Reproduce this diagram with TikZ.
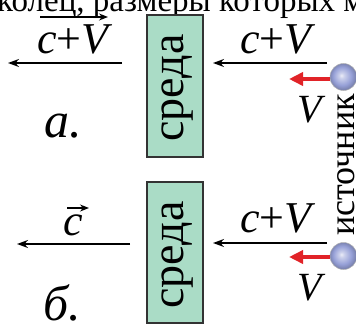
\documentclass[tikz,border=0pt]{standalone}
\usepackage{fontspec}
\setmainfont{Liberation Serif}
\usetikzlibrary{arrows.meta}
\definecolor{boxgreen}{RGB}{170,220,198}
\definecolor{arrowred}{RGB}{225,35,40}
\definecolor{ballblue}{RGB}{150,160,215}
\pgfdeclareradialshading{lightball}{\pgfpoint{-4bp}{3bp}}{color(0bp)=(ballblue!20!white); color(5bp)=(ballblue!50!white); color(17bp)=(ballblue); color(27bp)=(ballblue!75!black); color(40bp)=(ballblue!75!black)}
\begin{document}
\begin{tikzpicture}[x=1pt,y=-1pt,
  lbl/.style={inner sep=0pt, anchor=base, font=\fontsize{44}{44}\selectfont},
  vlbl/.style={inner sep=0pt, anchor=base, font=\fontsize{40}{40}\selectfont\itshape},
  caplbl/.style={inner sep=0pt, anchor=base west, font=\fontsize{50}{50}\selectfont\itshape},
  medium/.style={draw=black!80, line width=1.2pt, fill=boxgreen, minimum width=56pt, minimum height=142pt, inner sep=0pt},
  mediumtxt/.style={inner sep=0pt, rotate=90, anchor=base, font=\fontsize{46}{46}\selectfont},
  blackarrow/.style={line width=1.4pt, -{Stealth[length=11pt,width=8pt]}},
  vecarrow/.style={line width=1.4pt, -{Stealth[length=9pt,width=7pt]}},
  redarrow/.style={draw=arrowred, line width=3.8pt, -{Triangle[length=14pt,width=13pt]}},
  ball/.style={circle, minimum size=27pt, inner sep=0pt, shading=lightball, draw=gray!60, line width=0.5pt},
]
\useasboundingbox (0,0) rectangle (356,324);
\clip (0,0) rectangle (356,324);

% clipped line of book text at the top
\node[anchor=base west, inner sep=0pt, font=\fontsize{33}{33}\selectfont] (head) at (-3,11) {колец, размеры которых м};

% media boxes
\node[medium] (boxA) at (175,86) {};
\node[medium, minimum height=141pt] (boxB) at (175,252.5) {};
\node[mediumtxt] (txtA) at (183,88) {среда};
\node[mediumtxt] (txtB) at (183,255) {среда};

% sources
\node[ball] (srcA) at (343.5,77) {};
\node[ball] (srcB) at (343.5,256) {};
\node[inner sep=0pt, rotate=90, anchor=base, font=\fontsize{36}{36}\selectfont] (src) at (354,165) {источник};

% coordinates
\coordinate (redA) at (289,79);
\coordinate (redB) at (289,257);
\coordinate (inAs) at (327,63);
\coordinate (inAe) at (213,63);
\coordinate (inBs) at (327,243);
\coordinate (inBe) at (213,243);
\coordinate (outAs) at (122,63);
\coordinate (outAe) at (8,63);
\coordinate (outBs) at (130,244);
\coordinate (outBe) at (17,244);
\coordinate (vecAs) at (40,17);
\coordinate (vecAe) at (108,17);
\coordinate (vecBs) at (67,208);
\coordinate (vecBe) at (89,208);

% arrows
\draw[redarrow] (srcA.west |- redA) -- (redA);
\draw[redarrow] (srcB.west |- redB) -- (redB);
\draw[blackarrow] (inAs) -- (inAe);
\draw[blackarrow] (inBs) -- (inBe);
\draw[blackarrow] (outAs) -- (outAe);
\draw[blackarrow] (outBs) -- (outBe);
\draw[vecarrow] (vecAs) -- (vecAe);
\draw[vecarrow] (vecBs) -- (vecBe);

% labels
\node[lbl] (cvA) at (75,53) {\textit{c}+\textit{V}};
\node[lbl] (cvR1) at (278,53) {\textit{c}+\textit{V}};
\node[lbl] (cvR2) at (278,232) {\textit{c}+\textit{V}};
\node[lbl] (cB) at (73,235) {\textit{c}};
\node[vlbl] (vA) at (310,122) {V};
\node[vlbl] (vB) at (310,300) {V};
\node[caplbl] (capA) at (44,137) {а.};
\node[caplbl] (capB) at (43,320) {б.};
\end{tikzpicture}
\end{document}
